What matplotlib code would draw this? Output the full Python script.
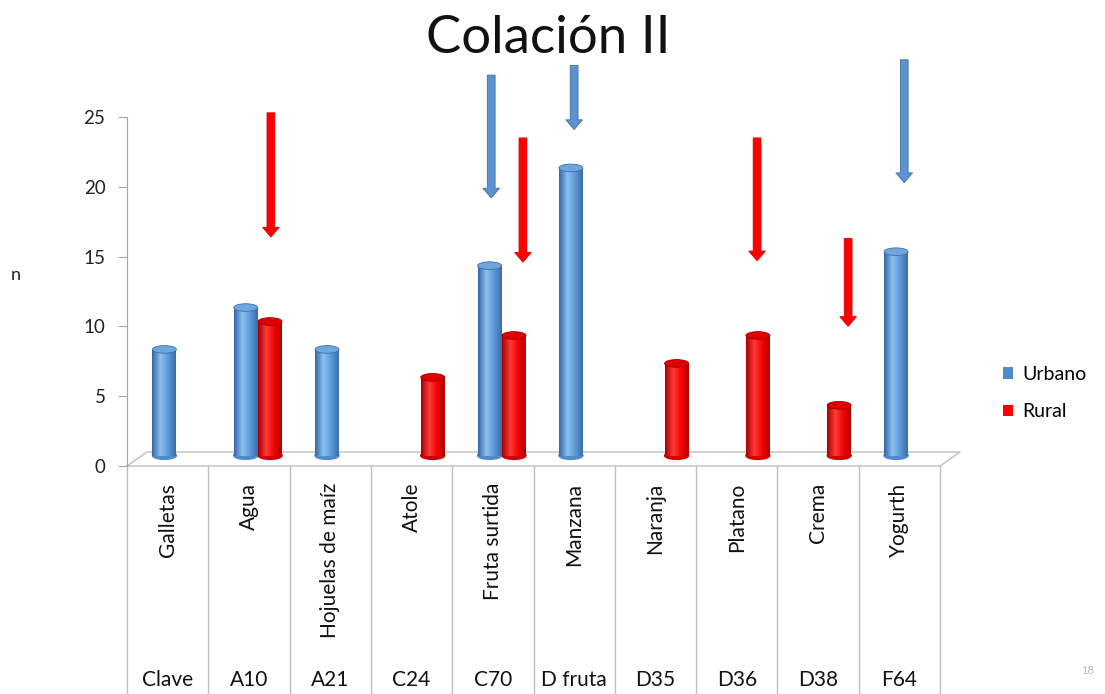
import numpy as np
import matplotlib
matplotlib.use('Agg')
import matplotlib.pyplot as plt
from matplotlib.patches import Ellipse, Rectangle, Patch
from matplotlib.colors import LinearSegmentedColormap

plt.rcParams['font.family'] = ['Lato', 'DejaVu Sans']

# --- data ---
alimentos = ['Galletas', 'Agua', 'Hojuelas de maíz', 'Atole', 'Fruta surtida',
             'Manzana', 'Naranja', 'Platano', 'Crema', 'Yogurth']
claves = ['Clave', 'A10', 'A21', 'C24', 'C70', 'D fruta', 'D35', 'D36', 'D38', 'F64']
urbano = [8, 11, 8, 0, 14, 21, 0, 0, 0, 15]
rural = [0, 10, 0, 6, 9, 0, 7, 9, 4, 0]

# flechas del slide: (x en categorias, y inicio, y fin, serie)
flecha_x = [1.27, 3.98, 4.37, 5.0, 7.25, 8.37, 9.06]
flecha_y0 = [25.3, 28.0, 23.5, 28.7, 23.5, 16.3, 29.1]
flecha_y1 = [16.4, 19.2, 14.6, 24.1, 14.7, 10.0, 20.3]
flecha_serie = ['Rural', 'Urbano', 'Rural', 'Urbano', 'Rural', 'Rural', 'Urbano']

W, H = 1105, 694
fig = plt.figure(figsize=(W / 100, H / 100), dpi=100)
ax = fig.add_axes([127 / W, 1 - 466 / H, (940 - 127) / W, (466 - 117) / H])
ax.set_xlim(-0.5, 9.5)
ax.set_ylim(0, 25)

grey = '#A6A6A6'
for s in ['top', 'right', 'bottom']:
    ax.spines[s].set_visible(False)
ax.spines['left'].set_color(grey)
ax.set_yticks([0, 5, 10, 15, 20, 25])
ax.tick_params(axis='y', length=6.5, color=grey, pad=9, labelsize=13.5, labelcolor='#222222')
ax.set_xticks([])

# piso 3D
dx, dy = 0.246, 1.0
ax.plot([-0.5, 9.5, 9.5 + dx, -0.5 + dx, -0.5], [0, 0, dy, dy, 0],
        color='#BFBFBF', lw=1, clip_on=False, zorder=1)

# tabla de etiquetas
tr = ax.get_xaxis_transform()
ybot = -(H - 466) / 349
for b in np.arange(-0.5, 10.5, 1):
    ax.plot([b, b], [0, ybot], color='#BFBFBF', lw=1, transform=tr, clip_on=False)
for i, (a, c) in enumerate(zip(alimentos, claves)):
    ax.text(i, -17 / 349, a, rotation=90, ha='center', va='top', fontsize=15,
            transform=tr, color='#111111')
    ax.text(i, -(680 - 466) / 349, c, ha='center', va='center', fontsize=15,
            transform=tr, color='#111111')

cmaps = {
    'Urbano': LinearSegmentedColormap.from_list(
        'u', [(0, '#3467A3'), (0.35, '#8DC0F0'), (0.7, '#5A96D4'), (1, '#3A6DAA')]),
    'Rural': LinearSegmentedColormap.from_list(
        'r', [(0, '#A80000'), (0.35, '#FF3A3A'), (0.7, '#F00000'), (1, '#B00000')]),
}
tops = {'Urbano': '#6FA6DE', 'Rural': '#E00000'}
edges = {'Urbano': '#3C6FA8', 'Rural': '#A00000'}
base_col = {'Urbano': '#4F8BCB', 'Rural': '#D00000'}

bw, eh, b0, lift = 0.295, 0.55, 0.75, 0.35
grad = np.linspace(0, 1, 64).reshape(1, -1)


def cilindro(xc, v, serie):
    top = v + lift
    x0 = xc - bw / 2
    ax.add_patch(Ellipse((xc, b0), bw, eh, color=base_col[serie], zorder=2))
    rect = Rectangle((x0, b0), bw, top - b0, transform=ax.transData)
    im = ax.imshow(grad, cmap=cmaps[serie], extent=[x0, x0 + bw, b0, top],
                   aspect='auto', zorder=3, interpolation='bilinear')
    im.set_clip_path(rect)
    ax.add_patch(Ellipse((xc, top), bw, eh, facecolor=tops[serie],
                         edgecolor=edges[serie], lw=0.6, zorder=4))


for i in range(len(alimentos)):
    if urbano[i] > 0:
        cilindro(i - 0.04, urbano[i], 'Urbano')
    if rural[i] > 0:
        cilindro(i + 0.26, rural[i], 'Rural')

ax.set_xlim(-0.5, 9.5)
ax.set_ylim(0, 25)

# flechas
for x, y0, y1, s in zip(flecha_x, flecha_y0, flecha_y1, flecha_serie):
    fc = '#5A93D0' if s == 'Urbano' else '#FF0000'
    ec = '#41709F' if s == 'Urbano' else '#E00000'
    ax.annotate('', xy=(x, y1), xytext=(x, y0), annotation_clip=False,
                arrowprops=dict(arrowstyle='simple,head_length=0.7,head_width=1.2,tail_width=0.56',
                                mutation_scale=10, fc=fc, ec=ec, lw=0.6,
                                shrinkA=0, shrinkB=0), zorder=6)

fig.text(548 / W, 1 - 53 / H, 'Colación II', ha='center', va='baseline', fontsize=38,
         color='#111111')
fig.text(16 / W, 1 - 275 / H, 'n', ha='center', va='center', fontsize=13, color='#222222')

handles = [Patch(facecolor='#4F8BCB', label='Urbano'), Patch(facecolor='#FF0000', label='Rural')]
fig.legend(handles=handles, loc='center left', bbox_to_anchor=(985 / W, 1 - 393 / H),
           frameon=False, fontsize=14, handlelength=0.52, handleheight=0.52,
           handletextpad=0.5, labelspacing=1.05)

fig.text(1088 / W, 1 - 670 / H, '18', ha='center', va='center', fontsize=8, color='#BBBBBB')

fig.savefig('out.png', dpi=100)
